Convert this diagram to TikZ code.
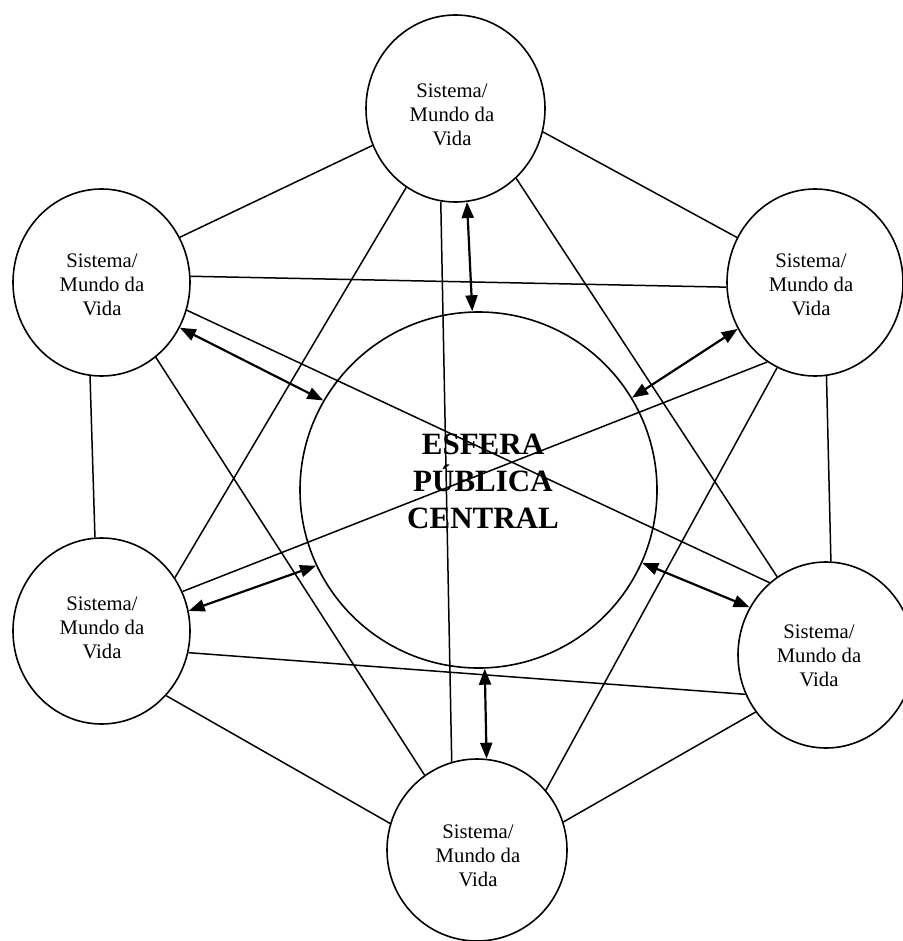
\documentclass[tikz,border=0pt]{standalone}
\usepackage{fontspec}
\setmainfont{Liberation Serif}
\usetikzlibrary{shapes.geometric,arrows.meta}
\begin{document}
\begin{tikzpicture}[x=1pt,y=-1pt,
  circ/.style={draw, ellipse, inner sep=0pt, line width=1.6pt},
  small/.style={font=\fontsize{20.7}{24}\selectfont, align=center, inner sep=0pt},
  big/.style={font=\fontsize{31}{37}\selectfont\bfseries, align=center, inner sep=0pt},
  link/.style={line width=1.5pt},
  dbl/.style={line width=2.2pt, {Triangle[length=16pt,width=12pt]}-{Triangle[length=16pt,width=12pt]}}]
\useasboundingbox (0,0) rectangle (902,941);
% circles
\node[circ, minimum width=179pt, minimum height=187pt] (T)  at (455.5,108.5) {};
\node[circ, minimum width=177pt, minimum height=187pt] (UL) at (101.5,282.5) {};
\node[circ, minimum width=176pt, minimum height=187pt] (UR) at (815,282.5) {};
\node[circ, minimum width=177pt, minimum height=186pt] (LL) at (101.5,631) {};
\node[circ, minimum width=176pt, minimum height=186pt] (LR) at (826,655) {};
\node[circ, minimum width=180pt, minimum height=182pt] (B)  at (477,850) {};
\node[circ, minimum width=357pt, minimum height=356pt] (C)  at (478.5,490) {};
% texts
\node[small] (tT)  at (452,114.5) {Sistema/\\Mundo da\\Vida};
\node[small] (tUL) at (102,284.5) {Sistema/\\Mundo da\\Vida};
\node[small] (tUR) at (811,284.5) {Sistema/\\Mundo da\\Vida};
\node[small] (tLL) at (102,627.5) {Sistema/\\Mundo da\\Vida};
\node[small] (tLR) at (819,655.5) {Sistema/\\Mundo da\\Vida};
\node[small] (tB)  at (478,855.5) {Sistema/\\Mundo da\\Vida};
\node[big] (tC) at (483,481) {ESFERA\\PÚBLICA\\CENTRAL};
% outer links
\draw[link] (T.-156.6) -- (UL.30.1);
\draw[link] (T.-15.9) -- (UR.150.3);
\draw[link] (UL.-97) -- (LL.94.6);
\draw[link] (UR.-83.3) -- (LR.87.5);
\draw[link] (LL.-45.2) -- (B.163.1);
\draw[link] (LR.-141.5) -- (B.18.4);
\draw[link] (UL.4.2) -- (UR.-177.1);
\draw[link] (LL.-14.6) -- (LR.-154);
\draw[link] (T.-99.1) -- (B.106.9);
\draw[link] (T.-122.4) -- (LL.36.4);
\draw[link] (T.-49) -- (LR.122.2);
\draw[link] (UL.-18.2) -- (LR.128.9);
\draw[link] (UL.-54.9) -- (B.125.5);
\draw[link] (UR.-121.8) -- (LL.26.4);
\draw[link] (UR.-114.3) -- (B.41.8);
% arrows to centre
\draw[dbl] (T.-83.3) -- (C.92.4);
\draw[dbl] (UL.-30.1) -- (C.150.6);
\draw[dbl] (UR.-149.7) -- (C.31.6);
\draw[dbl] (LL.13.1) -- (C.-155.4);
\draw[dbl] (LR.148.4) -- (C.-24);
\draw[dbl] (B.84.9) -- (C.-88.6);
\end{tikzpicture}
\end{document}
